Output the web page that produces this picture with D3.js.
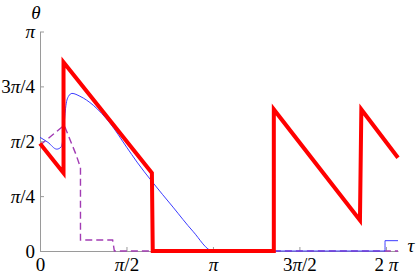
<!DOCTYPE html>
<html>
<head>
<meta charset="utf-8">
<script src="https://cdn.jsdelivr.net/npm/d3@7"></script>
<style>
  html, body { margin: 0; padding: 0; background: #fff; }
  svg { display: block; }
  text { font-family: "Liberation Serif", "DejaVu Serif", serif; }
</style>
</head>
<body>
<svg id="chart" width="417" height="278"></svg>
<script>
// All values in units of π (tau/π, theta/π)
const redTau   = [0, 0.136, 0.136, 0.647, 0.652, 1.352, 1.352, 1.850, 1.858, 2.07];
const redTheta = [0.49, 0.355, 0.86, 0.355, 0, 0, 0.645, 0.14, 0.645, 0.425];

const blueTau   = [0, 0.046, 0.097, 0.121, 0.133, 0.140, 0.150, 0.165, 0.185, 0.231, 0.308, 0.405, 0.501, 0.561, 0.646, 0.769, 0.884, 1.0, 1.995, 1.995, 2.07];
const blueTheta = [0.518, 0.495, 0.464, 0.473, 0.514, 0.582, 0.664, 0.705, 0.718, 0.705, 0.664, 0.582, 0.473, 0.405, 0.318, 0.200, 0.090, 0, 0, 0.047, 0.047];

const purpleTau   = [0, 0.140, 0.208, 0.234, 0.234, 0.420, 0.430, 2.07];
const purpleTheta = [0.482, 0.573, 0.44, 0.38, 0.05, 0.05, 0, 0];

const xTicks = [0, 0.5, 1, 1.5, 2];
const xTickLabels = [["0"], ["π", "/2"], ["π"], ["3", "π", "/2"], ["2 ", "π"]];
const yTicks = [0, 0.25, 0.5, 0.75, 1];
const yTickLabels = [["0"], ["π", "/4"], ["π", "/2"], ["3", "π", "/4"], ["π"]];

const svg = d3.select("#chart");
const x = d3.scaleLinear().domain([0, 2.07]).range([40, 398]);
const y = d3.scaleLinear().domain([0, 1]).range([251, 31.5]);

const axisColor = "#9a9a9a";
const fs = 19;

function fillLabel(sel, parts) {
  sel.text(null);
  parts.forEach(p => {
    const t = sel.append("tspan").text(p);
    if (p.trim() === "π") t.style("font-style", "italic");
  });
}

// X axis
const gx = svg.append("g").attr("transform", `translate(0,${y(0)})`)
  .call(d3.axisBottom(x).tickValues(xTicks).tickSize(-4).tickSizeOuter(0).tickPadding(7));
gx.select(".domain").attr("stroke", axisColor);
gx.selectAll(".tick line").attr("stroke", axisColor);
gx.selectAll(".tick text").attr("fill", "#000").style("font-size", fs + "px")
  .each(function(d, i) { fillLabel(d3.select(this), xTickLabels[i]); });

// Y axis
const gy = svg.append("g").attr("transform", `translate(${x(0)},0)`)
  .call(d3.axisLeft(y).tickValues(yTicks).tickSize(-4).tickSizeOuter(0).tickPadding(5));
gy.select(".domain").attr("stroke", axisColor);
gy.selectAll(".tick line").attr("stroke", axisColor);
gy.selectAll(".tick text").attr("fill", "#000").style("font-size", fs + "px")
  .each(function(d, i) { fillLabel(d3.select(this), yTickLabels[i]); });

// Axis titles
svg.append("text").attr("x", 36).attr("y", 18.5).attr("text-anchor", "middle")
  .style("font-size", fs + "px").style("font-style", "italic").text("θ");
svg.append("text").attr("x", 411).attr("y", 252).attr("text-anchor", "middle")
  .style("font-size", fs + "px").style("font-style", "italic").text("τ");

const line = d3.line().x(d => x(d[0])).y(d => y(d[1]));

svg.append("path")
  .datum(purpleTau.map((t, i) => [t, purpleTheta[i]]))
  .attr("d", line).attr("fill", "none")
  .attr("stroke", "#a23cb4").attr("stroke-width", 1.4).attr("stroke-dasharray", "7,4");

svg.append("path")
  .datum(blueTau.map((t, i) => [t, blueTheta[i]]))
  .attr("d", d3.line().x(d => x(d[0])).y(d => y(d[1])).curve(d3.curveMonotoneX)
    .defined(() => true))
  .attr("fill", "none").attr("stroke", "#3c3cff").attr("stroke-width", 1);

svg.append("path")
  .datum(redTau.map((t, i) => [t, redTheta[i]]))
  .attr("d", line).attr("fill", "none")
  .attr("stroke", "#ff0000").attr("stroke-width", 4).attr("stroke-linejoin", "miter");
</script>
</body>
</html>
